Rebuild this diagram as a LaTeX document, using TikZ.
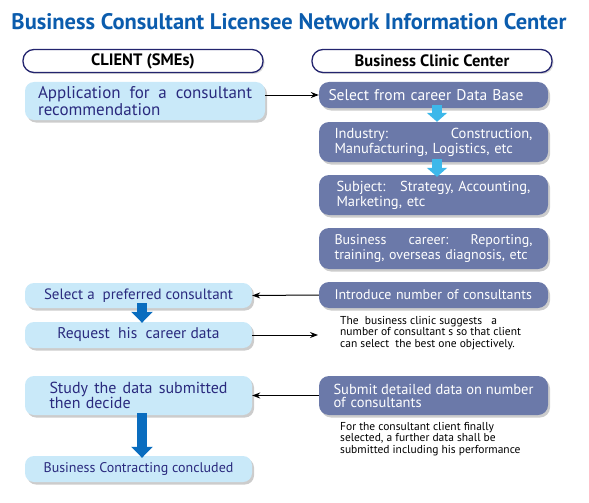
\documentclass[tikz,border=0pt]{standalone}
\usepackage{fontspec}
\setmainfont{PT Sans}
\usetikzlibrary{arrows.meta,shadows}
\definecolor{titleblue}{HTML}{0B5CAD}
\definecolor{navy}{HTML}{23246E}
\definecolor{navytext}{HTML}{2A2A7E}
\definecolor{paleblue}{HTML}{C9E9F9}
\definecolor{slate}{HTML}{6B79A9}
\definecolor{cyanflow}{HTML}{3DB8EA}
\definecolor{blueflow}{HTML}{0A6DBF}
\tikzset{
  title/.style={text=titleblue,font=\bfseries\fontsize{22.5}{26}\selectfont},
  header/.style={draw=navy,line width=1.3pt,fill=white,rounded corners=11pt,minimum width=240pt,minimum height=23pt,inner sep=0pt,font=\bfseries\fontsize{16.5}{18}\selectfont,drop shadow={shadow xshift=1.5pt,shadow yshift=-1.5pt,opacity=.3}},
  client/.style={fill=paleblue,text=navytext,rounded corners=9pt,minimum width=227pt,inner sep=0pt,drop shadow={shadow xshift=2pt,shadow yshift=-2.5pt,opacity=.4}},
  clinic/.style={fill=slate,text=white,rounded corners=10pt,minimum width=229pt,inner sep=0pt,drop shadow={shadow xshift=2pt,shadow yshift=-2.5pt,opacity=.4}},
  note/.style={anchor=north west,align=left,inner sep=0pt,font=\fontsize{11.5}{11.5}\selectfont},
  link/.style={line width=1pt,-{Stealth[length=8pt,width=6pt]}},
  cyanarrow/.style={draw=cyanflow,line width=10pt,-{Triangle[length=9pt,width=20pt]}},
  bluearrow/.style={draw=blueflow,line width=10pt,-{Triangle[length=11pt,width=21pt]}},
}
\begin{document}
\begin{tikzpicture}[x=1pt,y=-1pt]
\useasboundingbox (0,0) rectangle (589,503);
\node[title] (title) at (289,22) {Business Consultant Licensee Network Information Center};
\node[header] (clienthead) at (143,61) {CLIENT (SMEs)};
\node[header] (clinichead) at (432,61) {Business Clinic Center};

\node[client,minimum width=240pt,minimum height=38pt,text width=214pt,align=left,font=\fontsize{17}{15}\selectfont] (apply) at (145,101) {Application\hfill for\hfill a\hfill consultant\\recommendation};
\node[client,minimum height=25pt,font=\fontsize{15}{15}\selectfont] (prefer) at (138.5,295.5) {Select a\ \ preferred consultant};
\node[client,minimum height=26pt,font=\fontsize{15.5}{15}\selectfont] (request) at (138.5,335) {Request\ \ his\ \ career data};
\node[client,minimum height=39pt,text width=178pt,align=left,font=\fontsize{16}{15}\selectfont] (study) at (138.5,395.5) {Study\hfill the\hfill data\hfill submitted\\then decide};
\node[client,minimum height=26pt,font=\fontsize{14}{15}\selectfont] (concluded) at (138.5,469) {Business Contracting concluded};

\node[clinic,minimum height=26pt,text width=210pt,align=left,font=\fontsize{15.5}{15}\selectfont] (select) at (433.5,95) {Select from career Data Base};
\node[clinic,minimum height=40pt,text width=198pt,align=left,font=\fontsize{14.5}{15}\selectfont] (industry) at (433.5,142) {Industry:\hfill Construction,\\Manufacturing, Logistics, etc};
\node[clinic,minimum height=40pt,text width=194pt,align=left,font=\fontsize{14.5}{15}\selectfont] (subject) at (433.5,195) {Subject:\quad Strategy, Accounting,\\Marketing, etc};
\node[clinic,minimum height=41pt,text width=198pt,align=left,font=\fontsize{14}{15}\selectfont] (career) at (433.5,248.5) {Business\hfill career:\hfill Reporting,\\training, overseas diagnosis, etc};
\node[clinic,minimum height=26pt,text width=198pt,align=left,font=\fontsize{14}{15}\selectfont] (introduce) at (433.5,295) {Introduce number of consultants};
\node[clinic,minimum height=39pt,text width=200pt,align=left,font=\fontsize{14.5}{13}\selectfont] (submit) at (433.5,395.5) {Submit\hfill detailed\hfill data\hfill on\hfill number\\of consultants};

\node[note] (note1) at (340,316) {The\ \ business clinic suggests\ \ \ a\\number of consultant s so that client\\can select\ \ the best one objectively.};
\node[note] (note2) at (340,422) {For the consultant client finally\\selected, a further data shall be\\submitted including his performance};
\coordinate (notetip) at (318,335);

\draw[link] (apply.east |- select.west) -- (select.west);
\draw[link] (introduce.west) -- (prefer.east);
\draw[link] (request.east) -- (notetip);
\draw[link] (submit.west) -- (study.east);
\draw[cyanarrow] ([xshift=3.5pt,yshift=3pt]select.south) -- ([xshift=3.5pt]industry.north);
\draw[cyanarrow] ([xshift=3.5pt,yshift=3pt]industry.south) -- ([xshift=3.5pt,yshift=-2pt]subject.north);
\draw[bluearrow] ([xshift=3.5pt,yshift=5pt]prefer.south) -- ([xshift=3.5pt,yshift=-1pt]request.north);
\draw[bluearrow] ([xshift=3.5pt,yshift=2pt]study.south) -- ([xshift=3.5pt,yshift=-2pt]concluded.north);
\end{tikzpicture}
\end{document}
